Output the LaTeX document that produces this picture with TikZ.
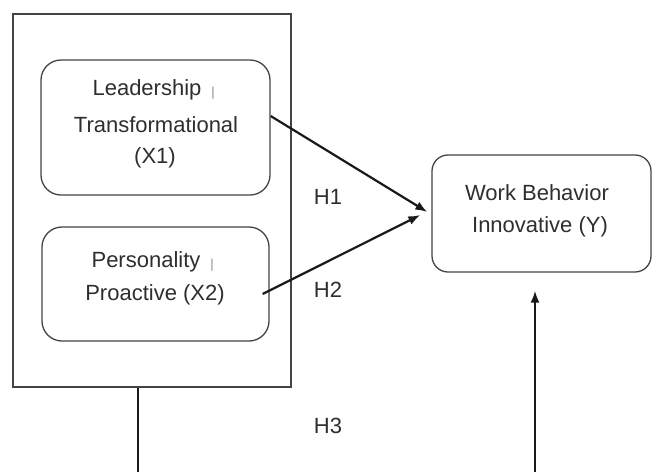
\documentclass[tikz,border=0pt]{standalone}
\usepackage{fontspec}
\setmainfont{Liberation Sans}
\usetikzlibrary{arrows.meta}
\definecolor{txt}{HTML}{2E2E2E}
\definecolor{edge}{HTML}{444444}
\begin{document}
\begin{tikzpicture}[x=1pt,y=-1pt,
  lbl/.style={font=\fontsize{22}{34}\selectfont, text=txt, align=center, inner sep=0pt},
  rbox/.style={draw=edge, line width=1.3pt, rounded corners=20pt, inner sep=0pt},
  frame/.style={draw=edge, line width=1.5pt},
  conn/.style={draw=black!90, line width=2.2pt},
  arr/.style={conn, -{Latex[length=12pt,width=9pt]}},
  tick/.style={text=black!45, font=\fontsize{13}{13}\selectfont, inner sep=0pt}
]
\useasboundingbox (0,0) rectangle (653,472);
% outer frame
\node[frame, minimum width=278pt, minimum height=373pt, inner sep=0pt] (outer) at (152,200.5) {};
% boxes
\node[rbox, minimum width=229pt, minimum height=135pt] (box1) at (155.5,127.5) {};
\node[rbox, minimum width=227pt, minimum height=114pt] (box2) at (155.5,284) {};
\node[rbox, rounded corners=16pt, minimum width=219pt, minimum height=117pt] (ybox) at (541.5,213.5) {};
% texts
\node[lbl] (t1) at (147,90) {Leadership};
\node[tick] (k1) at (213,93) {|};
\node[lbl] (t2) at (156,125) {Transformational};
\node[lbl] (t3) at (155,158) {(X1)};
\node[lbl] (t4) at (146,262) {Personality};
\node[tick] (k2) at (212,265) {|};
\node[lbl] (t5) at (155,295) {Proactive (X2)};
\node[lbl] (t6) at (537,193) {Work Behavior};
\node[lbl] (t7) at (540,227) {Innovative (Y)};
\node[lbl] (h1) at (328,197) {H1};
\node[lbl] (h2) at (328,290) {H2};
\node[lbl] (h3) at (328,426) {H3};
% connectors
\coordinate (e1) at ([xshift=-4pt,yshift=1.5pt]ybox.west);
\coordinate (e2) at ([xshift=-11pt,yshift=-1.5pt]ybox.west);
\coordinate (s1) at ([yshift=11.5pt]box1.east);
\coordinate (s2) at ([xshift=-7pt,yshift=-10pt]box2.east);
\draw[arr] (s1) -- (e1);
\draw[arr] (s2) -- (e2);
\coordinate (b1) at (138,472);
\coordinate (b2) at (535,472);
\coordinate (e3) at ([xshift=-6.5pt,yshift=-18pt]ybox.south);
\draw[conn] (outer.south -| b1) -- (b1);
\draw[arr] (b2) -- (e3);
\end{tikzpicture}
\end{document}
